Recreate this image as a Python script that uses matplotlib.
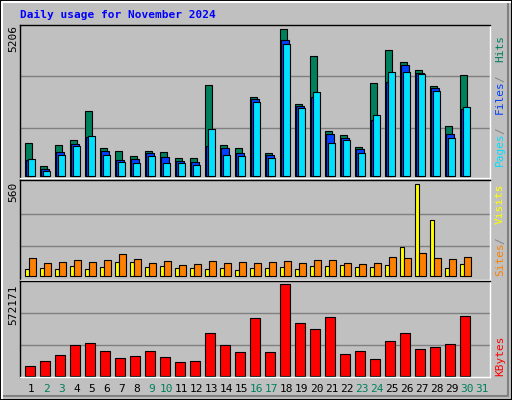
import numpy as np
import matplotlib
matplotlib.use("Agg")
import matplotlib.pyplot as plt
from matplotlib.patches import Rectangle

days = np.arange(1, 32)
hits = [1160, 355, 1088, 1266, 2295, 982, 875, 698, 875, 840, 627, 627, 3218, 1088, 982,
        2792, 804, 5206, 2543, 4247, 1585, 1443, 1017, 3289, 4460, 4034, 3750, 3182, 1763, 3573, 0]
files = [556, 237, 840, 1124, 1372, 875, 556, 592, 804, 662, 520, 485, 1053, 982, 804,
         2721, 733, 4815, 2472, 2792, 1479, 1337, 946, 1976, 3324, 3928, 3644, 3111, 1479, 2366, 0]
pages = [592, 166, 733, 1053, 1408, 733, 485, 450, 698, 450, 450, 379, 1656, 733, 698,
         2614, 627, 4673, 2401, 2969, 1159, 1266, 804, 2153, 3679, 3679, 3608, 3005, 1337, 2437, 0]
visits = [43, 49, 43, 61, 43, 55, 85, 85, 55, 61, 49, 49, 43, 49, 37,
          49, 49, 55, 43, 61, 61, 67, 55, 55, 67, 177, 560, 341, 49, 73, 0]
sites = [110, 79, 85, 97, 85, 97, 134, 104, 79, 91, 67, 73, 91, 79, 85,
         79, 85, 91, 79, 97, 97, 79, 73, 79, 116, 110, 140, 110, 104, 116, 0]
kbytes = [58500, 89800, 127000, 190000, 203000, 152000, 109000, 121000, 152000, 115000, 83500, 89800,
          265000, 190000, 146000, 359000, 146000, 572171, 328000, 290000, 365000, 134000, 152000, 102000,
          215000, 265000, 165000, 177000, 196000, 372000, 0]
weekend = [2, 3, 9, 10, 16, 17, 23, 24, 30, 31]

C_HITS, C_FILES, C_PAGES = "#00805C", "#0040FF", "#00E0FF"
C_VISITS, C_SITES, C_KB = "#FFFF00", "#FF8000", "#FF0000"
BG = "#C0C0C0"
W, H = 512, 400
mono = "DejaVu Sans Mono"

fig = plt.figure(figsize=(W / 100, H / 100), dpi=100, facecolor=BG)

# bevelled frame
fig.add_artist(Rectangle((0, 0), 1, 1, transform=fig.transFigure, fill=False, ec="black", lw=1.5))
fig.add_artist(plt.Line2D([2 / W, 2 / W, 1 - 2 / W], [2 / H, 1 - 2 / H, 1 - 2 / H], transform=fig.transFigure, color="white", lw=1.5))
fig.add_artist(plt.Line2D([4 / W, 1 - 4 / W, 1 - 4 / W], [4 / H, 4 / H, 1 - 4 / H], transform=fig.transFigure, color="#808080", lw=1.5))


def panel(top, bottom):
    ax = fig.add_axes([20 / W, 1 - bottom / H, 470 / W, (bottom - top) / H])
    ax.set_facecolor(BG)
    ax.set_xlim(0.367, 0.367 + 470 / 15)
    ax.set_xticks([])
    ax.set_yticks([])
    for s in ax.spines.values():
        s.set_color("black")
        s.set_linewidth(1)
    ax.spines["bottom"].set_color("white")
    ax.spines["right"].set_color("white")
    return ax


def grid(ax, top):
    for f in (0.33, 0.68):
        ax.axhline(top * f, color="#808080", lw=1, zorder=0)


d = days[:30]
# top panel
ax1 = panel(25, 178)
m = max(hits)
ax1.set_ylim(-0.013 * m, 1.03 * m)
grid(ax1, m)
ax1.bar(d - 0.3, hits[:30], width=0.47, align="edge", color=C_HITS, ec="black", lw=0.8)
ax1.bar(d - 0.2, files[:30], width=0.47, align="edge", color=C_FILES, ec="black", lw=0.8)
ax1.bar(d - 0.1, pages[:30], width=0.47, align="edge", color=C_PAGES, ec="black", lw=0.8)
fig.text(8 / W, 1 - 38 / H, str(m), rotation=90, ha="left", va="center", fontsize=8, family=mono)

# middle panel
ax2 = panel(180, 280)
m = max(visits)
ax2.set_ylim(-0.043 * m, 1.045 * m)
grid(ax2, m)
ax2.bar(d - 0.3, visits[:30], width=0.27, align="edge", color=C_VISITS, ec="black", lw=0.8)
ax2.bar(d - 0.03, sites[:30], width=0.47, align="edge", color=C_SITES, ec="black", lw=0.8)
fig.text(8 / W, 1 - 192 / H, str(m), rotation=90, ha="left", va="center", fontsize=8, family=mono)

# bottom panel
ax3 = panel(281, 377)
m = max(kbytes)
ax3.set_ylim(-0.014 * m, 1.03 * m)
grid(ax3, m)
ax3.bar(d - 0.27, kbytes[:30], width=0.67, align="edge", color=C_KB, ec="black", lw=0.8)
fig.text(8 / W, 1 - 305 / H, str(m), rotation=90, ha="left", va="center", fontsize=8, family=mono)

# day labels
for day in days:
    xp = (20 + 15 * (day - 0.367)) / W + 0.004
    fig.text(xp, 1 - 389 / H, str(day), ha="center", va="center", fontsize=8, family=mono,
             color=C_HITS if day in weekend else "black")

fig.text(20 / W, 1 - 15 / H, "Daily usage for November 2024", color="#0000FF", fontsize=8,
         fontweight="bold", family=mono, va="center")


def side(parts, ybot):
    # stack coloured pieces upward; mono char width ~ 6.67 px at 8pt
    y = ybot
    for txt, col in parts:
        fig.text(500 / W, 1 - y / H, txt.strip(), rotation=90, color=col, ha="center", va="bottom",
                 fontsize=8, family=mono)
        y -= len(txt) * 6.5


side([("Pages", C_PAGES), (" / ", "#808080"), ("Files", C_FILES), (" / ", "#808080"), ("Hits", C_HITS)], 166)
side([("Sites", C_SITES), (" / ", "#808080"), ("Visits", C_VISITS)], 276)
side([("KBytes", C_KB)], 376)

fig.savefig("out.png", dpi=100, facecolor=BG)
